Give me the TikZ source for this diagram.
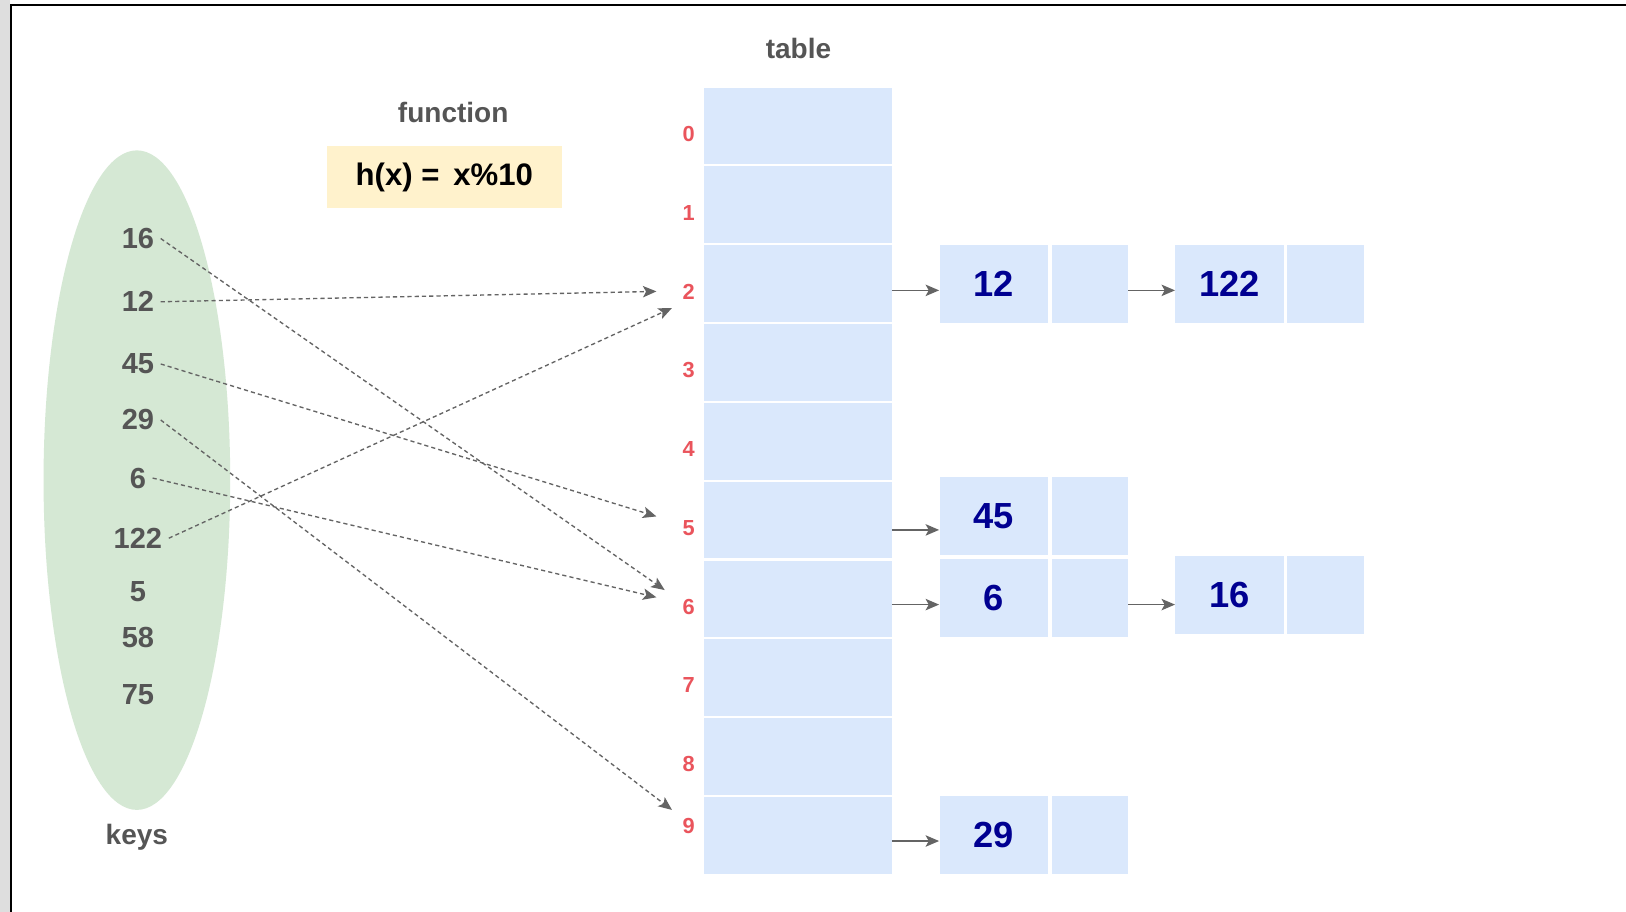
\documentclass[tikz,border=0pt]{standalone}
\usepackage{fontspec}
\setmainfont{Liberation Sans}
\usetikzlibrary{shapes.geometric,arrows.meta,calc}
\definecolor{cellblue}{RGB}{218,232,252}
\definecolor{keygreen}{RGB}{213,232,212}
\definecolor{fnyellow}{RGB}{255,242,204}
\definecolor{txtgray}{RGB}{85,85,85}
\definecolor{arrgray}{RGB}{100,100,100}
\definecolor{idxred}{RGB}{234,84,92}
\definecolor{navy}{RGB}{0,0,145}
\definecolor{stripgray}{RGB}{222,222,222}
\tikzset{
  keytxt/.style={text=txtgray,font=\fontsize{14}{16}\selectfont\bfseries,inner sep=3pt},
  title/.style={text=txtgray,font=\fontsize{13.5}{16}\selectfont\bfseries,inner sep=0pt},
  idx/.style={text=idxred,font=\fontsize{10.5}{12}\selectfont\bfseries,inner sep=0pt},
  tcell/.style={fill=cellblue,minimum width=90.5pt,minimum height=37pt,inner sep=0pt},
  vcell/.style={fill=cellblue,minimum width=52.5pt,minimum height=37.5pt,inner sep=0pt,
     text=navy,font=\fontsize{17.5}{20}\selectfont\bfseries},
  pcell/.style={fill=cellblue,minimum width=37pt,minimum height=37.5pt,inner sep=0pt},
  hasharr/.style={draw=arrgray,line width=0.65pt,dash pattern=on 2pt off 1.5pt,
     -{Stealth[length=6.5pt,width=5.5pt,inset=1.5pt]}},
  arr/.style={draw=arrgray,line width=0.75pt,-{Stealth[length=6.5pt,width=5.5pt,inset=1.5pt]}}
}
\begin{document}
\begin{tikzpicture}[x=0.5pt,y=-0.5pt]
\useasboundingbox (0,0) rectangle (1568,879);
\fill[white] (0,0) rectangle (1568,879);
\fill[stripgray] (0,0) rectangle (10,879);
\draw[black,line width=1pt] (10.5,879) -- (10.5,4.5) -- (1568,4.5);

% keys set
\node[ellipse,fill=keygreen,minimum width=90pt,minimum height=318pt,inner sep=0pt] (keyset) at (132,463) {};
\node[title] (keyslbl) at (132,807) {keys};
\node[keytxt] (k16) at (133,230) {16};
\node[keytxt] (k12) at (133,291) {12};
\node[keytxt] (k45) at (133,351) {45};
\node[keytxt] (k29) at (133,405) {29};
\node[keytxt] (k6) at (133,461) {6};
\node[keytxt] (k122) at (133,519) {122};
\node[keytxt] (k5) at (133,571) {5};
\node[keytxt] (k58) at (133,615) {58};
\node[keytxt] (k75) at (133,670) {75};

% function
\node[title] (fnlbl) at (437,108) {function};
\node[fill=fnyellow,minimum width=113.5pt,minimum height=30pt,inner sep=0pt,
  font=\fontsize{15}{18}\selectfont\bfseries] (fn) at (428.5,171) {h(x) =\ \,x\%10};

% table
\node[title] (tbllbl) at (770,47) {table};
\foreach \i in {0,...,9} {
  \node[tcell] (t\i) at (769.5,{121.5+76*\i}) {};
}
\foreach \i/\y in {0/129,1/205,2/281,3/357,4/433,5/509,6/585,7/661,8/737,9/797} {
  \node[idx] (i\i) at (664,\y) {\i};
}

% chain nodes
\node[vcell] (n12a) at (958.5,273.5) {12};
\node[pcell] (n12b) at (1051,273.5) {};
\node[vcell] (n122a) at (1186,273.5) {122};
\node[pcell] (n122b) at (1278.5,273.5) {};
\node[vcell] (n45a) at (958.5,497.5) {45};
\node[pcell] (n45b) at (1051,497.5) {};
\node[vcell] (n6a) at (958.5,577) {6};
\node[pcell] (n6b) at (1051,577) {};
\node[vcell] (n16a) at (1186,573.5) {16};
\node[pcell] (n16b) at (1278.5,573.5) {};
\node[vcell] (n29a) at (958.5,805) {29};
\node[pcell] (n29b) at (1051,805) {};

% solid arrows
\coordinate (a2) at (860,280);
\coordinate (b2) at (1088,280);
\coordinate (a5) at (860,511);
\coordinate (a6) at (860,583);
\coordinate (b6) at (1088,583);
\coordinate (a9) at (860,811);
\draw[arr] (a2) -- (a2 -| n12a.west);
\draw[arr] (b2) -- (b2 -| n122a.west);
\draw[arr] (a5) -- (a5 -| n45a.west);
\draw[arr] (a6) -- (a6 -| n6a.west);
\draw[arr] (b6) -- (b6 -| n16a.west);
\draw[arr] (a9) -- (a9 -| n29a.west);

% hashing arrows
\coordinate (e12) at (633,281);
\coordinate (e122) at (648,297);
\coordinate (e16) at (641,569);
\coordinate (e6) at (633,576);
\coordinate (e45) at (633,498);
\coordinate (e29) at (648,781);
\draw[hasharr] (k16.east) -- (e16);
\draw[hasharr] (k12.east) -- (e12);
\draw[hasharr] (k45.east) -- (e45);
\draw[hasharr] (k29.east) -- (e29);
\draw[hasharr] (k6.east) -- (e6);
\draw[hasharr] (k122.east) -- (e122);
\end{tikzpicture}
\end{document}
